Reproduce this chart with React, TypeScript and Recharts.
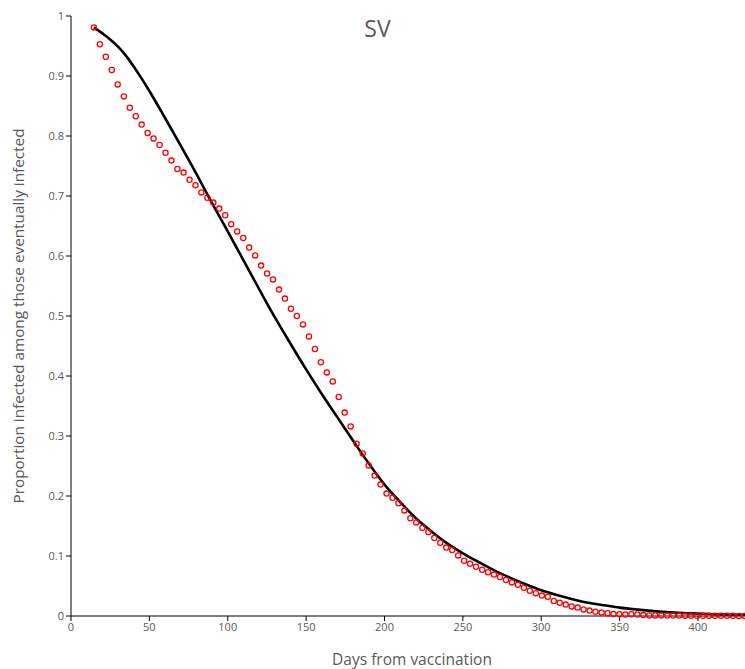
import { ComposedChart, Line, Scatter, XAxis, YAxis } from 'recharts'

// observed proportions (red circles)
const pointDays = [
  14.6, 18.4, 22.2, 26.0, 29.8, 33.7, 37.5, 41.3, 45.1, 48.9,
  52.7, 56.5, 60.3, 64.1, 67.9, 71.8, 75.6, 79.4, 83.2, 87.0,
  90.8, 94.6, 98.4, 102.2, 106.0, 109.9, 113.7, 117.5, 121.3, 125.1,
  128.9, 132.7, 136.5, 140.3, 144.1, 148.0, 151.8, 155.6, 159.4, 163.2,
  167.0, 170.8, 174.6, 178.4, 182.2, 186.1, 189.9, 193.7, 197.5, 201.3,
  205.1, 208.9, 212.7, 216.5, 220.3, 224.2, 228.0, 231.8, 235.6, 239.4,
  243.2, 247.0, 250.8, 254.6, 258.4, 262.3, 266.1, 269.9, 273.7, 277.5,
  281.3, 285.1, 288.9, 292.7, 296.5, 300.4, 304.2, 308.0, 311.8, 315.6,
  319.4, 323.2, 327.0, 330.8, 334.6, 338.5, 342.3, 346.1, 349.9, 353.7,
  357.5, 361.3, 365.1, 368.9, 372.7, 376.6, 380.4, 384.2, 388.0, 391.8,
  395.6, 399.4, 403.2, 407.0, 410.8, 414.7, 418.5, 422.3, 426.1, 429.9,
]
const pointValues = [
  0.981, 0.953, 0.932, 0.910, 0.886, 0.866, 0.847, 0.833, 0.819, 0.805,
  0.796, 0.785, 0.772, 0.759, 0.745, 0.739, 0.727, 0.718, 0.706, 0.697,
  0.689, 0.679, 0.668, 0.653, 0.641, 0.630, 0.614, 0.601, 0.584, 0.571,
  0.561, 0.544, 0.529, 0.512, 0.500, 0.486, 0.466, 0.445, 0.423, 0.406,
  0.391, 0.365, 0.339, 0.316, 0.287, 0.271, 0.251, 0.234, 0.219, 0.204,
  0.197, 0.188, 0.176, 0.163, 0.156, 0.147, 0.140, 0.130, 0.122, 0.114,
  0.110, 0.101, 0.092, 0.087, 0.082, 0.077, 0.073, 0.069, 0.065, 0.060,
  0.056, 0.052, 0.047, 0.042, 0.038, 0.034, 0.032, 0.025, 0.022, 0.019,
  0.016, 0.014, 0.011, 0.009, 0.007, 0.006, 0.0045, 0.0035, 0.003, 0.0025,
  0.003, 0.0025, 0.0015, 0.001, 0.001, 0.001, 0.0008, 0.0008, 0.0007, 0.0006,
  0.0006, 0.0005, 0.0005, 0.0004, 0.0004, 0.0003, 0.0003, 0.0003, 0.0002, 0.0002,
]

// fitted curve (black line)
const curveDays = [
  14.6, 20, 25, 30, 35, 40, 45, 50, 60, 70, 80, 90, 100, 110, 120, 130, 140, 150,
  160, 170, 180, 190, 200, 210, 220, 230, 240, 250, 260, 270, 280, 290,
  300, 310, 320, 330, 340, 350, 360, 370, 380, 390, 400, 410, 420, 430,
]
const curveValues = [
  0.981, 0.971, 0.961, 0.949, 0.934, 0.916, 0.896, 0.875, 0.830, 0.784,
  0.737, 0.688, 0.641, 0.593, 0.545, 0.498, 0.454, 0.411, 0.370, 0.331,
  0.292, 0.254, 0.219, 0.190, 0.163, 0.141, 0.121, 0.1045, 0.090, 0.076,
  0.064, 0.053, 0.043, 0.035, 0.028, 0.022, 0.018, 0.014, 0.011, 0.0085,
  0.0065, 0.005, 0.004, 0.003, 0.0025, 0.002,
]

const xTicks = [0, 50, 100, 150, 200, 250, 300, 350, 400]
const yTicks = [0, 0.1, 0.2, 0.3, 0.4, 0.5, 0.6, 0.7, 0.8, 0.9, 1]

const points = pointDays.map((day, i) => ({ day, value: pointValues[i] }))
const curve = curveDays.map((day, i) => ({ day, value: curveValues[i] }))

const textColor = '#595959'
const font = '"Open Sans", sans-serif'

function Ring(props: { cx?: number; cy?: number }) {
  return <circle cx={props.cx} cy={props.cy} r={2.6} fill="none" stroke="#FF0000" strokeWidth={1.3} />
}

export default function App() {
  return (
    <div style={{ position: 'absolute', left: 0, top: 0, width: 745, height: 669, fontFamily: font }}>
      <div
        style={{
          position: 'absolute',
          left: 0,
          width: 755,
          top: 12,
          textAlign: 'center',
          fontSize: 23,
          color: textColor,
        }}
      >
        SV
      </div>
      <ComposedChart width={745} height={669} margin={{ top: 16, right: 0, bottom: 0, left: 0 }}>
        <XAxis
          dataKey="day"
          type="number"
          domain={[0, 430]}
          ticks={xTicks}
          allowDataOverflow
          height={53}
          stroke="#000"
          tickSize={5}
          tick={{ fontSize: 11, fill: textColor, fontFamily: font }}
          label={{ value: 'Days from vaccination', position: 'center', dx: 4, dy: 17, fontSize: 15.5, fill: textColor, fontFamily: font }}
        />
        <YAxis
          dataKey="value"
          type="number"
          domain={[0, 1]}
          ticks={yTicks}
          width={71}
          stroke="#000"
          tickSize={5}
          tick={{ fontSize: 11, fill: textColor, fontFamily: font }}
          label={{
            value: 'Proportion infected among those eventually infected',
            angle: -90,
            position: 'center',
            dx: -17,
            fontSize: 15.3,
            fill: textColor,
            fontFamily: font,
          }}
        />
        <Line
          data={curve}
          dataKey="value"
          type="monotone"
          stroke="#000"
          strokeWidth={2.6}
          dot={false}
          activeDot={false}
          isAnimationActive={false}
        />
        <Scatter data={points} dataKey="value" shape={<Ring />} isAnimationActive={false} />
      </ComposedChart>
    </div>
  )
}
